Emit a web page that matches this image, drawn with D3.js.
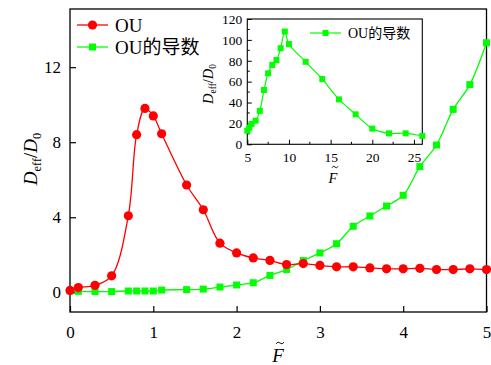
<!DOCTYPE html>
<html><head><meta charset="utf-8">
<script src="https://cdn.jsdelivr.net/npm/d3@7"></script>
<style>body{margin:0;background:#fff}svg{display:block}</style>
</head><body>
<svg id="c" width="491" height="365"></svg>
<script>
const ouX = [0,0.1,0.3,0.5,0.7,0.8,0.9,1.0,1.1,1.4,1.6,1.8,2.0,2.2,2.4,2.6,2.8,3.0,3.2,3.4,3.6,3.8,4.0,4.2,4.4,4.6,4.8,5.0];
const ouY = [0.1,0.25,0.37,0.88,4.08,8.4,9.8,9.4,8.45,5.72,4.4,2.62,2.1,1.83,1.7,1.48,1.53,1.43,1.36,1.36,1.3,1.25,1.25,1.28,1.21,1.21,1.25,1.21];
const derX = [0,0.1,0.3,0.5,0.7,0.8,0.9,1.0,1.1,1.4,1.6,1.8,2.0,2.2,2.4,2.6,2.8,3.0,3.2,3.4,3.6,3.8,4.0,4.2,4.4,4.6,4.8,5.0];
const derY = [0.07,0.05,0.04,0.04,0.07,0.07,0.07,0.07,0.12,0.14,0.17,0.28,0.39,0.51,0.9,1.21,1.69,2.1,2.59,3.52,4.07,4.6,5.17,6.7,7.85,9.75,11.07,13.3];
const insX = [5,5.25,5.5,6,6.5,7,7.5,8,8.5,9,9.5,10,12,14,16,18,20,22,24,26];
const insY = [13,16,19.5,22.6,32,52,68,76,80.7,92,108,96,79,62.5,43,28.7,15,10.5,10.5,8];
const mainXTicks = [0,1,2,3,4,5];
const mainYTicks = [0,4,8,12];
const insXTicks = [5,10,15,20,25];
const insYTicks = [0,20,40,60,80,100,120];
const legendLabels = ["OU","OU的导数"];

const RED = "#ff0000", GREEN = "#00ff00";
const serif = "'Liberation Serif','DejaVu Serif',serif";
const cjk = "'Noto Sans CJK SC',sans-serif";
const svg = d3.select("#c");

// ---------- main plot ----------
const L=70, R=486.5, T=9, B=312;
const x = d3.scaleLinear().domain([0,5]).range([L,R]);
const y = d3.scaleLinear().domain([-1.05,15.1]).range([B,T]);

const gx = svg.append("g").attr("transform",`translate(0,${B})`)
  .call(d3.axisBottom(x).tickValues(mainXTicks).tickSizeInner(-6).tickSizeOuter(0).tickPadding(14).tickFormat(d3.format("d")));
const gy = svg.append("g").attr("transform",`translate(${L},0)`)
  .call(d3.axisLeft(y).tickValues(mainYTicks).tickSizeInner(-6).tickSizeOuter(0).tickPadding(9).tickFormat(d3.format("d")));
[gx,gy].forEach(g=>{g.select(".domain").remove();
  g.selectAll("line").attr("stroke","#000").attr("stroke-width",1.2);
  g.selectAll("text").attr("font-family",serif).attr("font-size",17).attr("fill","#000");});
svg.append("rect").attr("x",L).attr("y",T).attr("width",R-L).attr("height",B-T)
  .attr("fill","none").attr("stroke","#000").attr("stroke-width",1.3);

const line = d3.line().x(d=>x(d[0])).y(d=>y(d[1])).curve(d3.curveCatmullRom.alpha(0.5));
const ouData = ouX.map((v,i)=>[v,ouY[i]]);
const derData = derX.map((v,i)=>[v,derY[i]]);

svg.append("path").datum(derData).attr("d",line).attr("fill","none").attr("stroke",GREEN).attr("stroke-width",1.3);
svg.selectAll(".sq").data(derData).join("rect").attr("class","sq")
  .attr("x",d=>x(d[0])-3.5).attr("y",d=>y(d[1])-3.5).attr("width",7).attr("height",7).attr("fill",GREEN);
svg.append("path").datum(ouData).attr("d",line).attr("fill","none").attr("stroke",RED).attr("stroke-width",1.3);
svg.selectAll(".ci").data(ouData).join("circle").attr("class","ci")
  .attr("cx",d=>x(d[0])).attr("cy",d=>y(d[1])).attr("r",4.6).attr("fill",RED);

// main legend
const lg = svg.append("g");
[[RED,25],[GREEN,47]].forEach(([c,yy],i)=>{
  lg.append("line").attr("x1",77).attr("x2",108).attr("y1",yy).attr("y2",yy).attr("stroke",c).attr("stroke-width",1.3);
  if(i===0) lg.append("circle").attr("cx",92.5).attr("cy",yy).attr("r",4.6).attr("fill",c);
  else lg.append("rect").attr("x",89).attr("y",yy-3.5).attr("width",7).attr("height",7).attr("fill",c);
  const t = lg.append("text").attr("x",115).attr("y",yy+6.5).attr("font-size",19).attr("fill","#000");
  t.append("tspan").attr("font-family",serif).text("OU");
  if(i===1) t.append("tspan").attr("font-family",cjk).text(legendLabels[1].slice(2));
});

// axis labels
function dLabel(g, fs){
  const t = g.append("text").attr("font-family",serif).attr("font-size",fs).attr("text-anchor","middle").attr("fill","#000");
  t.append("tspan").attr("font-style","italic").text("D");
  t.append("tspan").attr("font-size",fs*0.65).attr("dy",fs*0.2).text("eff");
  t.append("tspan").attr("dy",-fs*0.2).text("/");
  t.append("tspan").attr("font-style","italic").text("D");
  t.append("tspan").attr("font-size",fs*0.65).attr("dy",fs*0.2).text("0");
  return t;
}
dLabel(svg.append("g").attr("transform","translate(37,159) rotate(-90)"),19);
function fLabel(cx, by, fs, tx, ty, w){
  svg.append("text").attr("x",cx).attr("y",by).attr("font-family",serif).attr("font-style","italic")
    .attr("font-size",fs).attr("text-anchor","middle").text("F");
  const h = w/2;
  svg.append("path").attr("d",`M${tx-h},${ty+0.8} Q${tx-h/2},${ty-2.2} ${tx},${ty} T${tx+h},${ty-0.8}`)
    .attr("fill","none").attr("stroke","#000").attr("stroke-width",0.9);
}
fLabel(278,362,19,280,343,8);

// ---------- inset ----------
const iL=247.3, iR=422.3, iT=19, iB=144.3;
const ix = d3.scaleLinear().domain([5,26]).range([iL,iR]);
const iy = d3.scaleLinear().domain([0,120]).range([iB,iT]);
svg.append("rect").attr("x",iL).attr("y",iT).attr("width",iR-iL).attr("height",iB-iT).attr("fill","#fff");
const ig = svg.append("g");
// minor ticks
ig.selectAll(".mx").data(d3.range(7.5,26,5)).join("line").attr("x1",d=>ix(d)).attr("x2",d=>ix(d))
  .attr("y1",iB).attr("y2",iB-2.5).attr("stroke","#000");
ig.selectAll(".my").data(d3.range(10,120,20)).join("line").attr("y1",d=>iy(d)).attr("y2",d=>iy(d))
  .attr("x1",iL).attr("x2",iL+2.5).attr("stroke","#000");
const igx = ig.append("g").attr("transform",`translate(0,${iB})`)
  .call(d3.axisBottom(ix).tickValues(insXTicks).tickSizeInner(-4.5).tickSizeOuter(0).tickPadding(8).tickFormat(d3.format("d")));
const igy = ig.append("g").attr("transform",`translate(${iL},0)`)
  .call(d3.axisLeft(iy).tickValues(insYTicks).tickSizeInner(-4.5).tickSizeOuter(0).tickPadding(5).tickFormat(d3.format("d")));
[igx,igy].forEach(g=>{g.select(".domain").remove();
  g.selectAll("line").attr("stroke","#000").attr("stroke-width",1);
  g.selectAll("text").attr("font-family",serif).attr("font-size",13.5).attr("fill","#000");});
ig.append("rect").attr("x",iL).attr("y",iT).attr("width",iR-iL).attr("height",iB-iT)
  .attr("fill","none").attr("stroke","#000").attr("stroke-width",1.1);
const iline = d3.line().x(d=>ix(d[0])).y(d=>iy(d[1])).curve(d3.curveCatmullRom.alpha(0.5));
const insData = insX.map((v,i)=>[v,insY[i]]);
ig.append("path").datum(insData).attr("d",iline).attr("fill","none").attr("stroke",GREEN).attr("stroke-width",1.2);
ig.selectAll(".isq").data(insData).join("rect").attr("class","isq")
  .attr("x",d=>ix(d[0])-3).attr("y",d=>iy(d[1])-3).attr("width",6).attr("height",6).attr("fill",GREEN);
// inset legend
ig.append("line").attr("x1",310).attr("x2",341).attr("y1",33).attr("y2",33).attr("stroke",GREEN).attr("stroke-width",1.2);
ig.append("rect").attr("x",322.5).attr("y",30).attr("width",6).attr("height",6).attr("fill",GREEN);
const it = ig.append("text").attr("x",348).attr("y",38).attr("font-size",14).attr("fill","#000");
it.append("tspan").attr("font-family",serif).text("OU");
it.append("tspan").attr("font-family",cjk).text(legendLabels[1].slice(2));
dLabel(svg.append("g").attr("transform","translate(213,84) rotate(-90)"),14.5);
fLabel(333,183,14.5,335,167,6);
</script>
</body></html>
